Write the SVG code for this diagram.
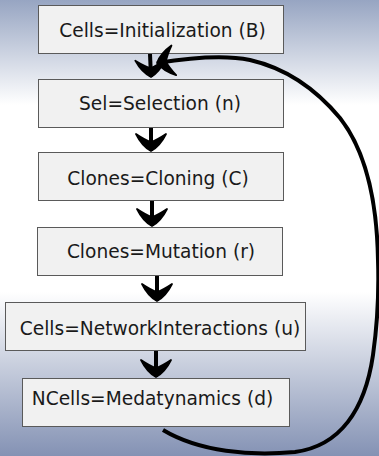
<svg xmlns="http://www.w3.org/2000/svg" width="379" height="456" viewBox="0 0 379 456">
<defs>
<linearGradient id="bg" x1="0" y1="0" x2="0" y2="1">
<stop offset="0" stop-color="#97a5c2"/>
<stop offset="0.23" stop-color="#ffffff"/>
<stop offset="0.64" stop-color="#ffffff"/>
<stop offset="1" stop-color="#8492b4"/>
</linearGradient>
<marker id="chev" markerUnits="userSpaceOnUse" markerWidth="40" markerHeight="40" viewBox="-20 -20 40 40" refX="0" refY="0" orient="auto" overflow="visible">
<path d="M0,0 Q-5,-9 -17,-15 Q-11,-6 -9,0 Q-11,6 -17,15 Q-5,9 0,0 Z" fill="#000" stroke="#000" stroke-width="1.8" stroke-linejoin="round"/>
</marker>
<style>
.box{fill:#f1f1f1;stroke:#5a5a5a;stroke-width:1}
.lbl{font-family:"DejaVu Sans",sans-serif;font-size:18.6px;fill:#1a1a1a;text-anchor:middle}
.con{fill:none;stroke:#000;stroke-width:4;marker-end:url(#chev)}
</style>
</defs>
<rect x="0" y="0" width="379" height="456" fill="url(#bg)"/>
<g id="n1"><rect class="box" x="38.5" y="5.5" width="245" height="48"/><text class="lbl" x="162.5" y="37">Cells=Initialization (B)</text></g>
<g id="n2"><rect class="box" x="38.5" y="79.5" width="245" height="48"/><text class="lbl" x="160" y="110">Sel=Selection (n)</text></g>
<g id="n3"><rect class="box" x="38.5" y="152.5" width="245" height="48"/><text class="lbl" x="158" y="184.5">Clones=Cloning (C)</text></g>
<g id="n4"><rect class="box" x="37.5" y="227.5" width="245" height="48"/><text class="lbl" x="161" y="257.5">Clones=Mutation (r)</text></g>
<g id="n5"><rect class="box" x="5.5" y="302.5" width="300" height="48"/><text class="lbl" x="160" y="335">Cells=NetworkInteractions (u)</text></g>
<g id="n6"><rect class="box" x="22.5" y="378.5" width="267" height="48"/><text class="lbl" x="152.5" y="405">NCells=Medatynamics (d)</text></g>
<g id="connectors">
<path class="con" d="M150,54 L151,77"/>
<path class="con" d="M151,128 L151,151"/>
<path class="con" d="M152,201 L152,226"/>
<path class="con" d="M157,276 L157,301"/>
<path class="con" d="M156,351 L156,377"/>
<path class="con" d="M163,430 C200,452 250,456 295,452 C340,446 365,410 373,355 C378,320 379,290 378,260 C377,200 365,150 340,118 C315,88 285,68 250,60 C225,55 195,57 157,63"/>
</g>
</svg>
